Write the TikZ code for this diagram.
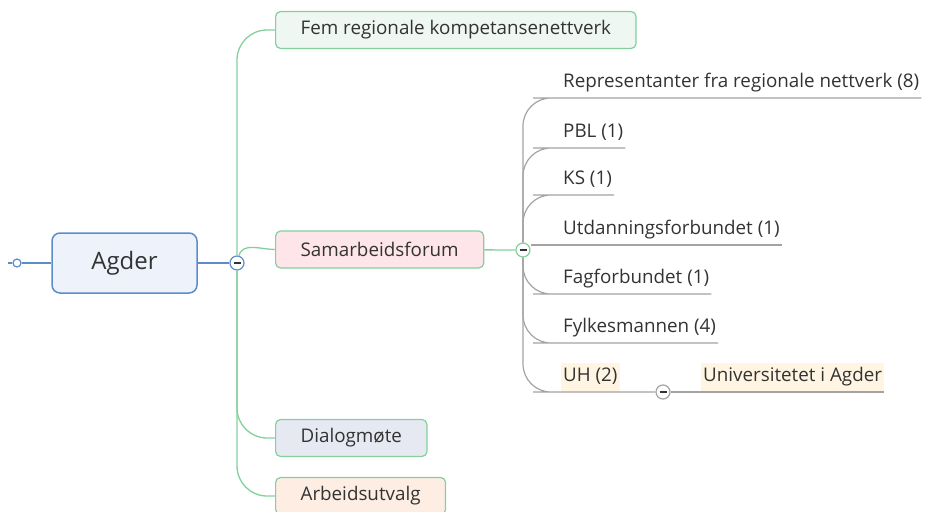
\documentclass[tikz,border=0pt]{standalone}
\usepackage{fontspec}
\setmainfont{Open Sans}
\usepackage{tikz}
\usetikzlibrary{positioning}
\definecolor{rootblue}{HTML}{5B8DC9}
\definecolor{rootfill}{HTML}{EEF3FB}
\definecolor{branchgreen}{HTML}{84CF9C}
\definecolor{femfill}{HTML}{EEF7F1}
\definecolor{samfill}{HTML}{FDE5EA}
\definecolor{dialfill}{HTML}{E7E9F2}
\definecolor{arbfill}{HTML}{FDEDE3}
\definecolor{subgray}{HTML}{A3A3A3}
\definecolor{hlfill}{HTML}{FFF5E2}
\definecolor{textgray}{HTML}{333333}
\tikzstyle{root} = [rectangle, draw=rootblue, line width=1.5, fill=rootfill, rounded corners=8, minimum width=145, minimum height=60, text=textgray, font=\fontsize{24}{28}\selectfont]
\tikzstyle{topic} = [rectangle, draw=branchgreen, line width=1.2, rounded corners=5, minimum height=37, inner xsep=25, anchor=west, text=textgray, font=\fontsize{18.8}{22}\selectfont]
\tikzstyle{sub} = [inner xsep=2, inner ysep=5, text height=14, text depth=5, anchor=south west, text=textgray, font=\fontsize{18.8}{22}\selectfont]
\tikzstyle{collapse} = [circle, fill=white, minimum size=14, inner sep=0, line width=1.2, path picture={\draw[textgray, line width=1.6] ([xshift=-3.5pt]path picture bounding box.center) -- ([xshift=3.5pt]path picture bounding box.center);}]
\tikzstyle{greenline} = [draw=branchgreen, line width=1.3]
\tikzstyle{grayline} = [draw=subgray, line width=1.2]

\begin{document}
\begin{tikzpicture}[x=1pt, y=-1pt]
\useasboundingbox (0,0) rectangle (928,511);
%% central topic
\node[root] at (124.5,263) (agder) {Agder};
\node[circle, draw=rootblue, fill=white, line width=1.2, minimum size=8, inner sep=0] at (17,263) (stub) {};
\coordinate (stubend) at (8,263);
\node[collapse, draw=rootblue] at (237,263) (c1) {};

%% main topics
\node[topic, fill=femfill] at (275,30) (fem) {Fem regionale kompetansenettverk};
\node[topic, fill=samfill] at (275,249.5) (samarb) {Samarbeidsforum};
\node[topic, fill=dialfill] at (275,438) (dialog) {Dialogmøte};
\node[topic, fill=arbfill] at (275,496) (arbeid) {Arbeidsutvalg};
\node[collapse, draw=branchgreen] at (523,250) (c2) {};

%% members of the forum
\node[sub] at (561,98) (repr) {Representanter fra regionale nettverk (8)};
\node[sub] at (561,148) (pbl) {PBL (1)};
\node[sub] at (561,195) (ks) {KS (1)};
\node[sub] at (561,245) (utd) {Utdanningsforbundet (1)};
\node[sub] at (561,294) (fag) {Fagforbundet (1)};
\node[sub] at (561,343) (fylke) {Fylkesmannen (4)};
\node[sub, fill=hlfill] at (561,392) (uh) {UH (2)};
\node[collapse, draw=subgray] at (663,392) (c3) {};
\node[sub, fill=hlfill] at (701,392) (uia) {Universitetet i Agder};

%% connectors
\draw[rootblue, line width=1.3] (stubend) -- (stub) -- (agder) -- (c1);
\draw[greenline, rounded corners=30] (c1) |- (fem.west);
\draw[greenline] (c1) to[out=75, in=180] (samarb.west);
\draw[greenline, rounded corners=30] (c1) |- (dialog.west);
\draw[greenline, rounded corners=30] (c1) |- (arbeid.west);
\draw[greenline] (samarb) -- (c2);

\draw[grayline, rounded corners=28] (c2) |- (repr.south west) -- (repr.south east);
\draw[grayline, rounded corners=28] (c2) |- (pbl.south west) -- (pbl.south east);
\draw[grayline, rounded corners=28] (c2) |- (ks.south west) -- (ks.south east);
\draw[grayline] (c2.east |- utd.south) -- (utd.south east);
\draw[grayline, rounded corners=28] (c2) |- (fag.south west) -- (fag.south east);
\draw[grayline, rounded corners=28] (c2) |- (fylke.south west) -- (fylke.south east);
\draw[grayline, rounded corners=28] (c2) |- (uh.south west) -- (c3);
\draw[grayline] (c3) -- (uia.south east);
\end{tikzpicture}
\end{document}
